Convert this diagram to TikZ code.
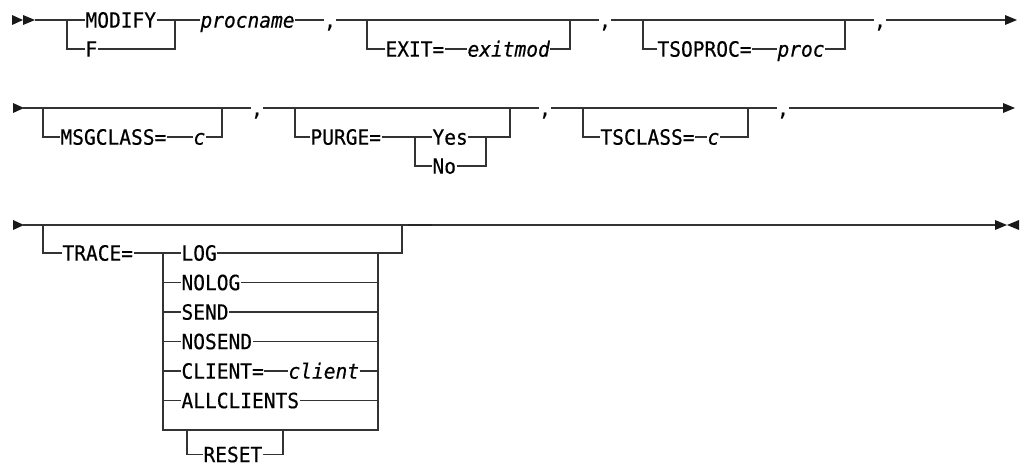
\documentclass[tikz,border=0pt]{standalone}
\usepackage{fontspec}
\newfontfamily\dmono[FakeBold=0.5,FakeStretch=0.93]{DejaVu Sans Mono}
\begin{document}
\begin{tikzpicture}[x=1pt,y=-1pt,
  railline/.style={line width=1.3pt, draw=black!80},
  railkw/.style={font={\dmono\fontsize{21}{22}\selectfont}, inner xsep=0.3pt, inner ysep=0pt,
     text height=15.3pt, text depth=0pt, anchor=west, text=black},
  railvar/.style={railkw, font={\dmono\itshape\fontsize{21}{22}\selectfont}},
  railcomma/.style={railkw, anchor=center, inner xsep=0pt},
  railtip/.style={fill=black!90, draw=none}]
\useasboundingbox (0,0) rectangle (1024,466);

% ---------- row 1 ----------
\fill[railtip] (12,15) -- (23,20) -- (12,25) -- cycle;
\fill[railtip] (23,15) -- (35,20) -- (23,25) -- cycle;
\coordinate (s1) at (35,20);
\coordinate (j1a) at (67,20);  \coordinate (j1b) at (67,49);
\coordinate (j1c) at (175,20); \coordinate (j1d) at (175,49);
\node[railkw] (modify) at (85,20) {MODIFY};
\node[railkw] (f) at (85,49) {F};
\node[railvar] (procname) at (200,20) {procname};
\node[railcomma] (c1) at (330,20) {,};
\draw[railline] (s1) -- (j1a) -- (modify.west);
\draw[railline] (modify.east) -- (j1c) -- (procname.west);
\draw[railline] (j1a) -- (j1b) -- (f.west);
\draw[railline] (f.east) -- (j1d) -- (j1c);
\draw[railline] (procname.east) -- (c1.west);

\coordinate (j2a) at (367,20); \coordinate (j2b) at (367,49);
\coordinate (j2c) at (570,49); \coordinate (j2d) at (570,20);
\node[railkw] (exit) at (385,49) {EXIT=};
\node[railvar] (exitmod) at (467,49) {exitmod};
\node[railcomma] (c2) at (605,20) {,};
\draw[railline] (c1.east) -- (j2a) -- (j2d) -- (c2.west);
\draw[railline] (j2a) -- (j2b) -- (exit.west);
\draw[railline] (exit.east) -- (exitmod.west);
\draw[railline] (exitmod.east) -- (j2c) -- (j2d);

\coordinate (j3a) at (643,20); \coordinate (j3b) at (643,49);
\coordinate (j3c) at (845,49); \coordinate (j3d) at (845,20);
\node[railkw] (tsoproc) at (657,49) {TSOPROC=};
\node[railvar] (proc) at (777,49) {proc};
\node[railcomma] (c3) at (880,20) {,};
\coordinate (e1) at (1006,20);
\draw[railline] (c2.east) -- (j3a) -- (j3d) -- (c3.west);
\draw[railline] (j3a) -- (j3b) -- (tsoproc.west);
\draw[railline] (tsoproc.east) -- (proc.west);
\draw[railline] (proc.east) -- (j3c) -- (j3d);
\draw[railline] (c3.east) -- (e1);
\fill[railtip] (1005,15) -- (1017,20) -- (1005,25) -- cycle;

% ---------- row 2 ----------
\fill[railtip] (13,103) -- (24,108) -- (13,113) -- cycle;
\coordinate (s2) at (23,108);
\coordinate (k1a) at (43,108);  \coordinate (k1b) at (43,137);
\coordinate (k1c) at (222,137); \coordinate (k1d) at (222,108);
\node[railkw] (msg) at (60,137) {MSGCLASS=};
\node[railvar] (msgc) at (193,137) {c};
\node[railcomma] (c4) at (257,108) {,};
\draw[railline] (s2) -- (k1a) -- (k1d) -- (c4.west);
\draw[railline] (k1a) -- (k1b) -- (msg.west);
\draw[railline] (msg.east) -- (msgc.west);
\draw[railline] (msgc.east) -- (k1c) -- (k1d);

\coordinate (k2a) at (295,108); \coordinate (k2b) at (295,137);
\coordinate (k2c) at (415,137); \coordinate (k2d) at (415,166);
\coordinate (k2e) at (486,137); \coordinate (k2f) at (486,166);
\coordinate (k2g) at (510,137); \coordinate (k2h) at (510,108);
\node[railkw] (purge) at (310,137) {PURGE=};
\node[railkw] (yes) at (432,137) {Yes};
\node[railkw] (no) at (432,166) {No};
\node[railcomma] (c5) at (545,108) {,};
\draw[railline] (c4.east) -- (k2a) -- (k2h) -- (c5.west);
\draw[railline] (k2a) -- (k2b) -- (purge.west);
\draw[railline] (purge.east) -- (k2c) -- (yes.west);
\draw[railline] (k2c) -- (k2d) -- (no.west);
\draw[railline] (no.east) -- (k2f) -- (k2e);
\draw[railline] (yes.east) -- (k2e) -- (k2g) -- (k2h);

\coordinate (m1a) at (583,108); \coordinate (m1b) at (583,137);
\coordinate (m1c) at (748,137); \coordinate (m1d) at (748,108);
\node[railkw] (tsclass) at (600,137) {TSCLASS=};
\node[railvar] (tsc) at (707,137) {c};
\node[railcomma] (c6) at (783,108) {,};
\coordinate (e2) at (1004,108);
\draw[railline] (c5.east) -- (m1a) -- (m1d) -- (c6.west);
\draw[railline] (m1a) -- (m1b) -- (tsclass.west);
\draw[railline] (tsclass.east) -- (tsc.west);
\draw[railline] (tsc.east) -- (m1c) -- (m1d);
\draw[railline] (c6.east) -- (e2);
\fill[railtip] (1003,103) -- (1015,108) -- (1003,113) -- cycle;

% ---------- row 3 ----------
\fill[railtip] (13,220) -- (24,225) -- (13,230) -- cycle;
\coordinate (s3) at (23,225);
\coordinate (n1a) at (43,225);  \coordinate (n1b) at (43,253);
\coordinate (n1c) at (402,253); \coordinate (n1d) at (402,225);
\coordinate (e3) at (996,225);
\node[railkw] (trace) at (62,253) {TRACE=};
\draw[railline] (s3) -- (n1a) -- (n1d) -- (e3);
\draw[line width=1.9pt, black!85] (408,224.6) -- (432,224.6);
\draw[railline] (n1a) -- (n1b) -- (trace.west);

\coordinate (n2a) at (163,253); \coordinate (n2b) at (163,430);
\coordinate (n3a) at (378,253); \coordinate (n3b) at (378,430);
\node[railkw] (log) at (181,253) {LOG};
\node[railkw] (nolog) at (181,282.5) {NOLOG};
\node[railkw] (send) at (181,312) {SEND};
\node[railkw] (nosend) at (181,341.5) {NOSEND};
\node[railkw] (clientkw) at (181,371) {CLIENT=};
\node[railvar] (client) at (288,371) {client};
\node[railkw] (allclients) at (181,400.5) {ALLCLIENTS};
\draw[railline] (trace.east) -- (n2a) -- (log.west);
\draw[railline] (log.east) -- (n3a) -- (n1c) -- (n1d);
\draw[railline] (n2a) -- (n2b) -- (n3b) -- (n3a);
\foreach \n in {nolog,send,nosend,clientkw,allclients}{
  \draw[railline] (n2a |- \n.west) -- (\n.west);
}
\foreach \n in {nolog,send,nosend,client,allclients}{
  \draw[railline] (\n.east) -- (n3a |- \n.east);
}
\draw[railline] (clientkw.east) -- (client.west);

\coordinate (r1) at (187,430); \coordinate (r2) at (187,454.5);
\coordinate (r3) at (283,454.5); \coordinate (r4) at (283,430);
\node[railkw] (reset) at (203,454.5) {RESET};
\draw[railline] (r1) -- (r2) -- (reset.west);
\draw[railline] (reset.east) -- (r3) -- (r4);

\fill[railtip] (995,220) -- (1007,225) -- (995,230) -- cycle;
\fill[railtip] (1019,220) -- (1007,225) -- (1019,230) -- cycle;
\end{tikzpicture}
\end{document}
